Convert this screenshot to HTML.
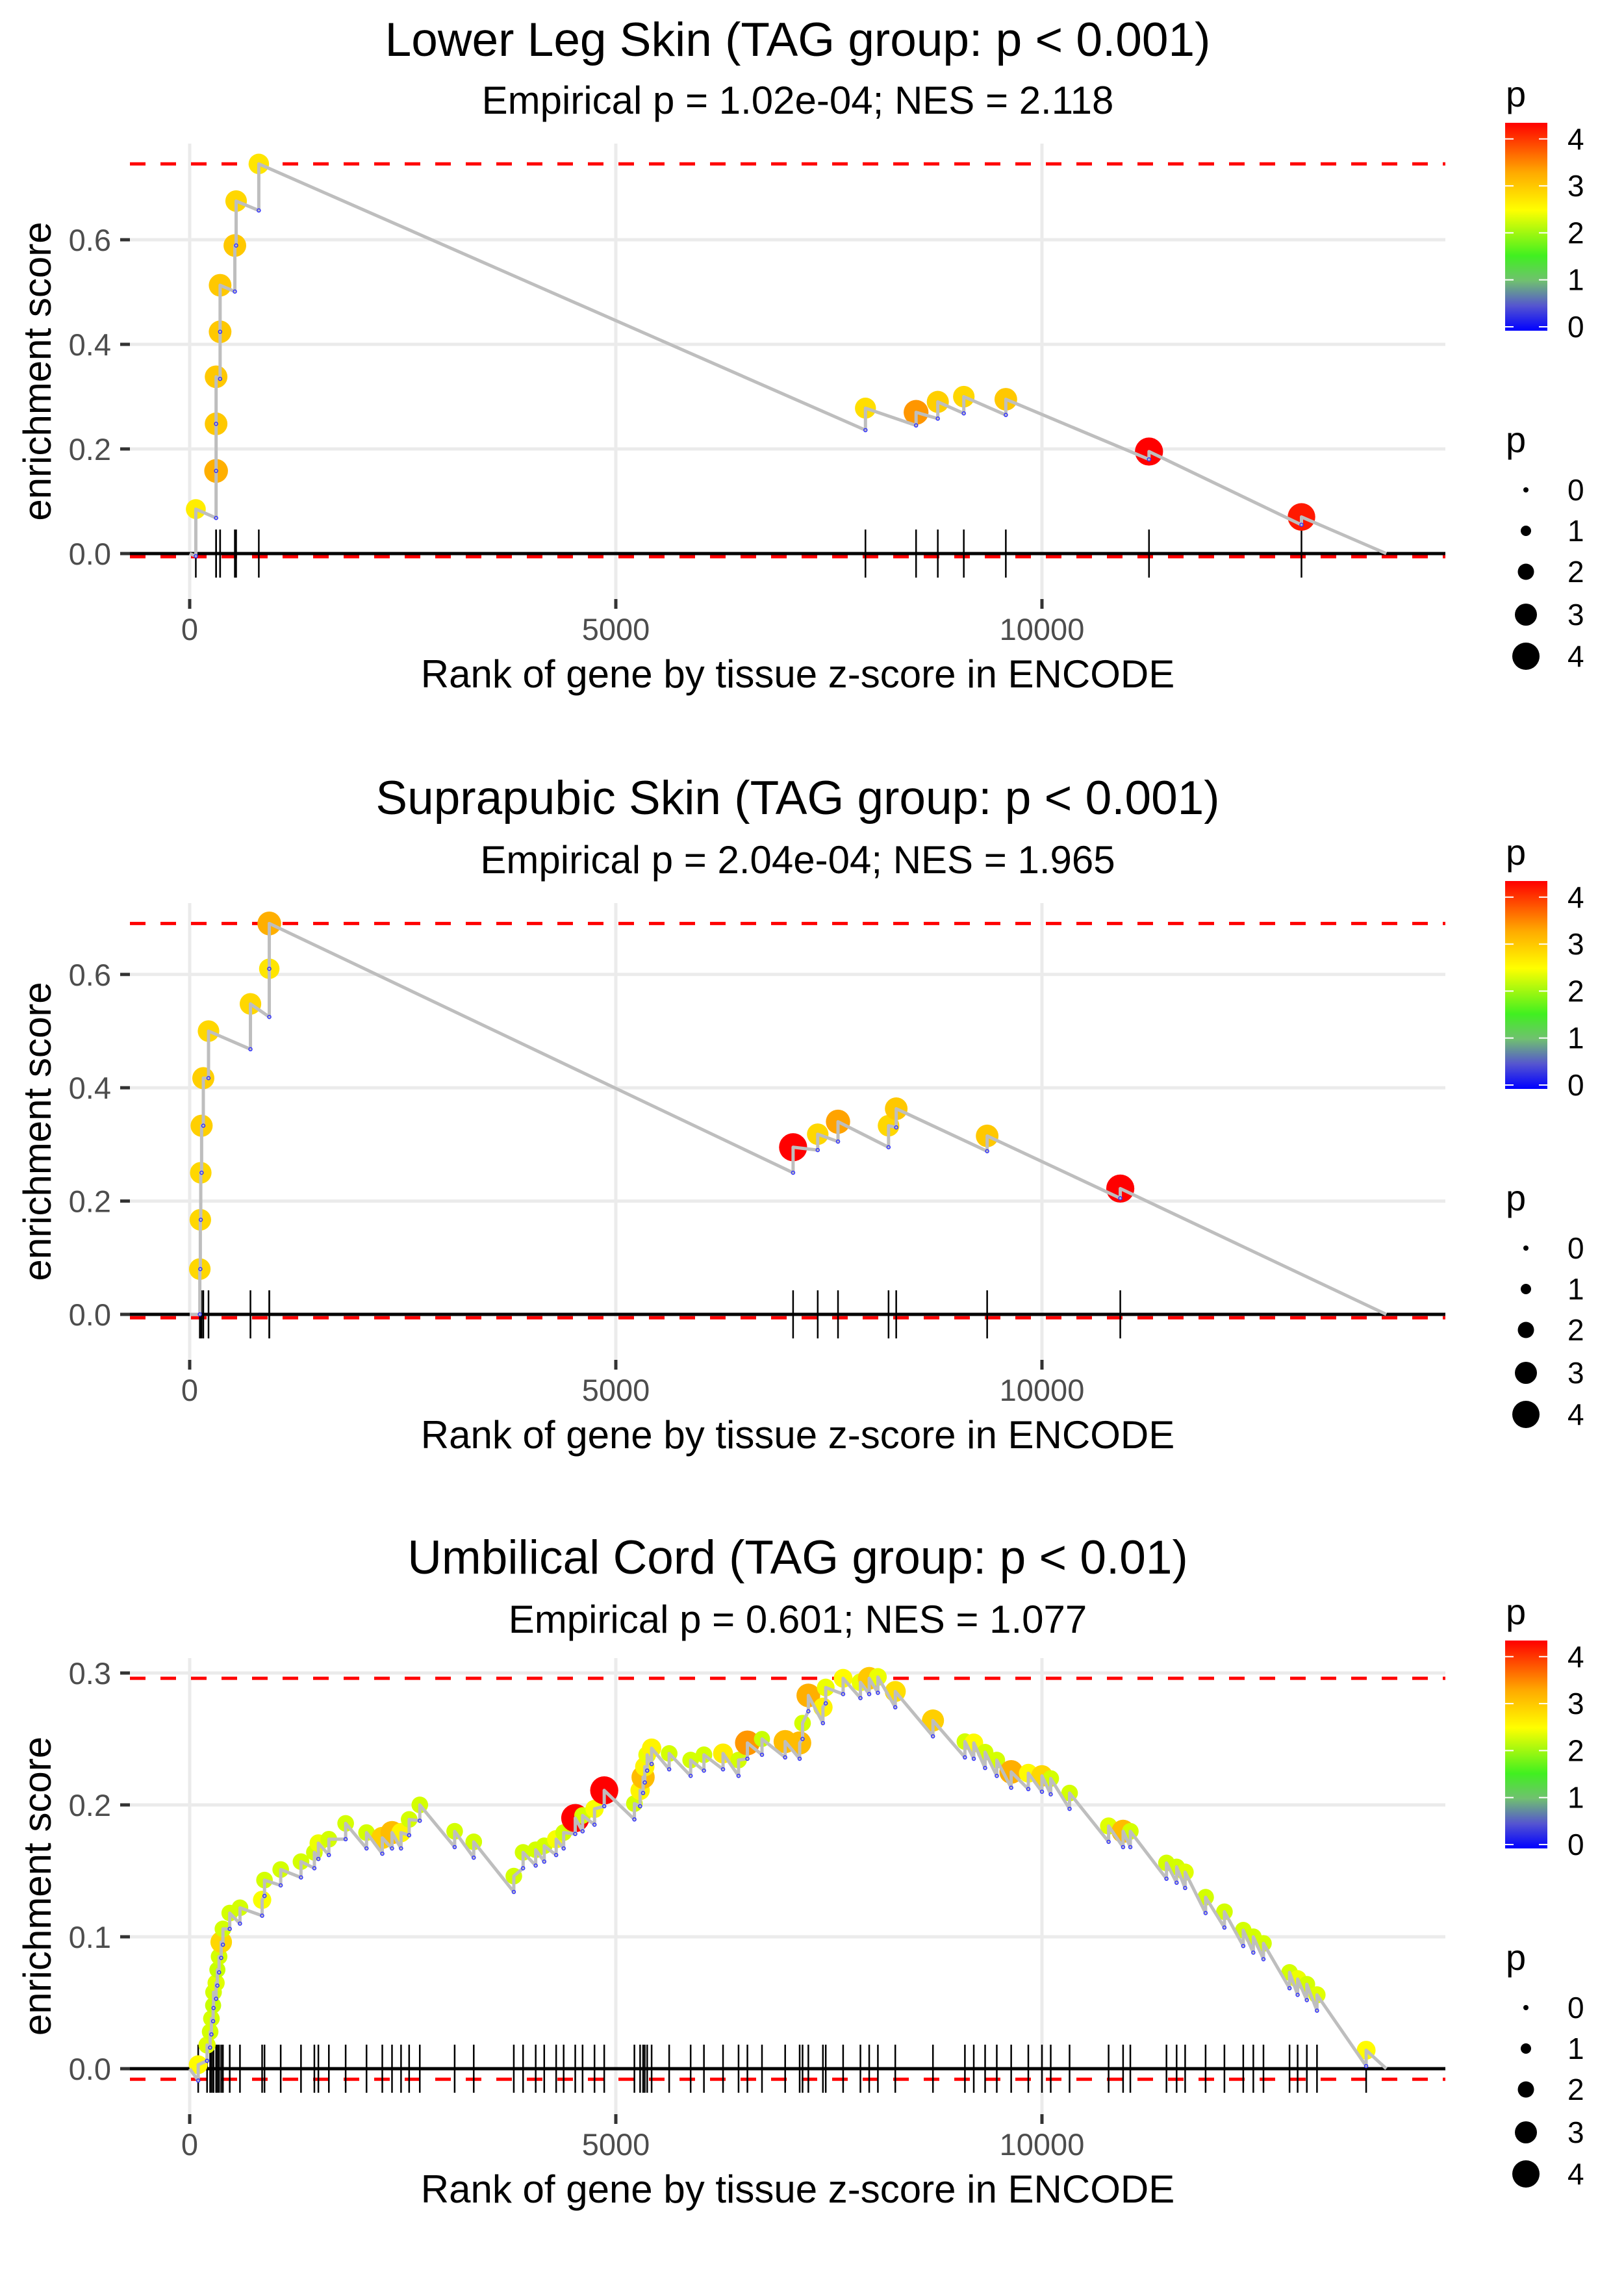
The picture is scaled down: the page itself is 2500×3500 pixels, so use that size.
<!DOCTYPE html>
<html><head><meta charset="utf-8"><style>
html,body{margin:0;padding:0;background:#fff}
svg{display:block;font-family:"Liberation Sans",Arial,sans-serif}
</style></head><body>
<svg id="chart" width="2500" height="3500" viewBox="0 0 2500 3500" xmlns="http://www.w3.org/2000/svg">
<defs>
<linearGradient id="cbar" x1="0" y1="1" x2="0" y2="0">
<stop offset="0" stop-color="#0000ff"/>
<stop offset="0.12" stop-color="#5555d0"/>
<stop offset="0.24" stop-color="#70c070"/>
<stop offset="0.36" stop-color="#40f020"/>
<stop offset="0.58" stop-color="#ffff00"/>
<stop offset="0.76" stop-color="#ffaa00"/>
<stop offset="1" stop-color="#ff0000"/>
</linearGradient>
</defs>
</svg>
<script>
// ---- Panel 1: Lower Leg Skin ----
const p1Ranks = [72, 310, 310, 310, 357, 357, 530, 545, 811, 7929, 8523, 8778, 9083, 9576, 11256, 13045];
const p1ES    = [0.085, 0.158, 0.248, 0.338, 0.424, 0.513, 0.589, 0.674, 0.745, 0.278, 0.27, 0.29, 0.30, 0.295, 0.195, 0.07];
const p1Low   = [-0.005, 0.068, 0.158, 0.248, 0.334, 0.424, 0.501, 0.589, 0.656, 0.236, 0.245, 0.258, 0.268, 0.265, 0.18, 0.055];
const p1P     = [2.7, 3.4, 3.2, 3.2, 3.2, 3.2, 3.2, 3.0, 2.8, 2.9, 3.6, 3.1, 3.0, 3.2, 4.2, 4.1];
const p1Ticks = ['0.0','0.2','0.4','0.6'];
// ---- Panel 2: Suprapubic Skin ----
const p2Ranks = [119, 125, 130, 140, 160, 221, 713, 934, 934, 7080, 7369, 7607, 8200, 8290, 9357, 10919];
const p2ES    = [0.08, 0.167, 0.25, 0.333, 0.417, 0.50, 0.548, 0.61, 0.69, 0.295, 0.318, 0.34, 0.333, 0.363, 0.315, 0.222];
const p2Low   = [0.0, 0.08, 0.167, 0.25, 0.333, 0.417, 0.468, 0.525, 0.61, 0.25, 0.29, 0.305, 0.295, 0.33, 0.288, 0.205];
const p2P     = [3.0, 3.0, 3.0, 3.1, 3.1, 3.0, 3.0, 2.8, 3.4, 4.2, 3.0, 3.5, 3.0, 3.2, 3.2, 4.2];
const p2Ticks = ['0.0','0.2','0.4','0.6'];
// ---- Panel 3: Umbilical Cord ----
const p3Ranks = [100,204,240,255,275,280,310,325,345,370,390,470,590,850,878,1068,1306,1463,1510,1633,1830,2075,2260,2374,2480,2575,2700,3109,3333,3803,3912,4060,4160,4300,4388,4524,4610,4750,4864,5218,5285,5320,5340,5368,5420,5626,5878,6034,6258,6440,6544,6715,6987,7157,7191,7259,7430,7463,7667,7870,7973,8075,8279,8721,9096,9200,9333,9470,9639,9840,10000,10103,10324,10782,10952,11037,11461,11580,11680,11920,12141,12362,12480,12599,12905,13000,13108,13227,13804];
const p3ES    = [0.003,0.018,0.028,0.038,0.048,0.058,0.065,0.075,0.085,0.096,0.106,0.118,0.122,0.128,0.143,0.151,0.157,0.164,0.171,0.174,0.186,0.179,0.175,0.179,0.179,0.189,0.200,0.180,0.172,0.146,0.164,0.166,0.169,0.174,0.179,0.19,0.192,0.197,0.211,0.201,0.211,0.221,0.229,0.238,0.243,0.239,0.234,0.238,0.239,0.234,0.247,0.250,0.248,0.247,0.262,0.283,0.274,0.289,0.296,0.293,0.296,0.297,0.286,0.264,0.248,0.247,0.240,0.234,0.225,0.224,0.222,0.22,0.209,0.184,0.18,0.18,0.156,0.153,0.149,0.13,0.119,0.105,0.1,0.095,0.073,0.068,0.064,0.056,0.014];
const p3P     = [2.5,2.2,2.1,2.1,2.0,2.1,2.2,2.0,2.1,3.0,2.1,2.1,2.1,2.4,2.1,2.1,2.1,2.1,2.3,2.1,2.1,2.1,3.1,3.3,2.6,2.1,2.1,2.1,2.1,2.1,2.1,2.1,2.1,2.4,2.1,4.2,2.1,2.4,4.2,2.1,2.6,3.3,2.6,2.3,2.6,2.1,2.1,2.1,2.7,2.1,3.6,2.0,3.3,3.3,2.1,3.4,2.6,2.3,2.5,2.3,3.2,2.3,2.9,3.1,2.1,2.5,2.1,2.1,3.4,2.5,3.0,2.1,2.1,2.2,3.3,2.1,2.1,2.1,2.2,2.1,2.1,2.1,2.1,2.1,2.1,2.3,2.1,2.2,2.5];
const p3Ticks = ['0.0','0.1','0.2','0.3'];
const xTickVals = [0, 5000, 10000];

const NS='http://www.w3.org/2000/svg';
const svg=document.getElementById('chart');
function mk(tag, attrs, parent){const e=document.createElementNS(NS,tag);for(const k in attrs)e.setAttribute(k,attrs[k]);(parent||svg).appendChild(e);return e;}
function xScale(r){return 292 + r*0.1312;}
function colorFor(p){
  const stops=[[0,[0,0,255]],[0.5,[85,85,208]],[1,[112,192,112]],[1.5,[64,240,32]],[2.0,[200,255,0]],[2.45,[255,255,0]],[3.2,[255,200,0]],[3.6,[255,150,0]],[4.2,[255,0,0]]];
  if(p<=0)return 'rgb(0,0,255)';
  for(let i=1;i<stops.length;i++){if(p<=stops[i][0]){const a=stops[i-1],b=stops[i];const t=(p-a[0])/(b[0]-a[0]);const c=a[1].map((v,j)=>Math.round(v+(b[1][j]-v)*t));return 'rgb('+c.join(',')+')';}}
  return 'rgb(255,0,0)';
}
function radius(p){return 4+4.2*p;}

const panels=[
 {ranks:p1Ranks,es:p1ES,low:p1Low,p:p1P,ticks:p1Ticks,tickStep:0.2,y0:852,perUnit:805,top:221,maxDash:0.745,minDash:-0.006,endRank:14040,
  title:'Lower Leg Skin (TAG group: p < 0.001)',sub:'Empirical p = 1.02e-04; NES = 2.118',titleY:60,subY:154,legOff:0,name:'lower-leg-skin'},
 {ranks:p2Ranks,es:p2ES,low:p2Low,p:p2P,ticks:p2Ticks,tickStep:0.2,y0:2023,perUnit:872,top:1390,maxDash:0.69,minDash:-0.006,endRank:14040,
  title:'Suprapubic Skin (TAG group: p < 0.001)',sub:'Empirical p = 2.04e-04; NES = 1.965',titleY:1227,subY:1323,legOff:1167,name:'suprapubic-skin'},
 {ranks:p3Ranks,es:p3ES,low:null,p:p3P,ticks:p3Ticks,tickStep:0.1,y0:3184,perUnit:2030,top:2552,maxDash:0.296,minDash:-0.008,endRank:14040,
  title:'Umbilical Cord (TAG group: p < 0.01)',sub:'Empirical p = 0.601; NES = 1.077',titleY:2396,subY:2492,legOff:2336,name:'umbilical-cord'}
];

panels.forEach((P,pi)=>{
  const g=mk('g',{});
  
  
  const y=v=>P.y0 - v*P.perUnit;
  const L=200,R=2225;
  const bottom=P.y0+70;
  P.ticks.forEach((t,i)=>{
    const gl=mk('line',{x1:L,x2:R,y1:y(i*P.tickStep),y2:y(i*P.tickStep),stroke:'#ebebeb','stroke-width':5},g);
    
    
  });
  xTickVals.forEach(v=>{
    const gl=mk('line',{x1:xScale(v),x2:xScale(v),y1:P.top,y2:bottom,stroke:'#ebebeb','stroke-width':5},g);
    
    
  });
  [P.maxDash,P.minDash].forEach(v=>{
    const d=mk('line',{x1:L,x2:R,y1:y(v),y2:y(v),stroke:'#ff0000','stroke-width':5,'stroke-dasharray':'24 23'},g);
    
    
  });
  const z=mk('line',{x1:L,x2:R,y1:y(0),y2:y(0),stroke:'#000','stroke-width':5},g);
  
  
  P.ranks.forEach(r=>{
    const t=mk('line',{x1:xScale(r),x2:xScale(r),y1:y(0)-37,y2:y(0)+37,stroke:'#000','stroke-width':2.5},g);
    
    
  });
  const lows=P.low?P.low:P.es.map(v=>v-0.012);
  let d='M'+xScale(0)+' '+y(0);
  P.ranks.forEach((r,i)=>{d+=' L'+xScale(r)+' '+y(lows[i])+' L'+xScale(r)+' '+y(P.es[i]);});
  d+=' L'+xScale(P.endRank)+' '+y(0);
  P.ranks.forEach((r,i)=>{
    const c=mk('circle',{cx:xScale(r),cy:y(P.es[i]),r:radius(P.p[i]),fill:colorFor(P.p[i])},g);
    
    
  });
  const line=mk('path',{d:d,fill:'none',stroke:'#bebebe','stroke-width':5,'stroke-linejoin':'round'},g);
  
  
  P.ranks.forEach((r,i)=>{
    const c=mk('circle',{cx:xScale(r),cy:y(lows[i]),r:2.5,fill:'none',stroke:'#3333ff','stroke-width':1.5},g);
    
    
  });
  P.ticks.forEach((t,i)=>{
    const yy=y(i*P.tickStep);
    const tk=mk('line',{x1:185,x2:200,y1:yy,y2:yy,stroke:'#333','stroke-width':5},g);
    
    
    const tx=mk('text',{x:171,y:yy+17,'text-anchor':'end','font-size':47,fill:'#4d4d4d'},g);
    tx.textContent=t;
    
    
  });
  xTickVals.forEach(v=>{
    const tk=mk('line',{x1:xScale(v),x2:xScale(v),y1:bottom,y2:bottom+15,stroke:'#333','stroke-width':5},g);
    
    
    const tx=mk('text',{x:xScale(v),y:P.y0+133,'text-anchor':'middle','font-size':47,fill:'#4d4d4d'},g);
    tx.textContent=String(v);
    
    
  });
  const ti=mk('text',{x:1228,y:P.titleY+26,'text-anchor':'middle','font-size':73,fill:'#000'},g);
  ti.textContent=P.title;
  
  
  const su=mk('text',{x:1228,y:P.subY+21,'text-anchor':'middle','font-size':60,fill:'#000'},g);
  su.textContent=P.sub;
  
  
  const xa=mk('text',{x:1228,y:P.y0+206,'text-anchor':'middle','font-size':60,fill:'#000'},g);
  xa.textContent='Rank of gene by tissue z-score in ENCODE';
  
  
  const ycx=78, ycy=(P.top+bottom)/2;
  const ya=mk('text',{x:ycx,y:ycy,'text-anchor':'middle','font-size':60,fill:'#000',transform:'rotate(-90 '+ycx+' '+ycy+')'},g);
  ya.textContent='enrichment score';
  
  
  const o=P.legOff;
  const lt=mk('text',{x:2318,y:164+o,'font-size':56,fill:'#000'},g);
  lt.textContent='p';
  
  
  const cb=mk('rect',{x:2317,y:189+o,width:65,height:320,fill:'url(#cbar)'},g);
  
  
  for(let v=0;v<=4;v++){
    const yy=503-v*72.3+o;
    mk('line',{x1:2317,x2:2330,y1:yy,y2:yy,stroke:'#fff','stroke-width':2},g);
    mk('line',{x1:2369,x2:2382,y1:yy,y2:yy,stroke:'#fff','stroke-width':2},g);
    const tx=mk('text',{x:2413,y:yy+16,'font-size':46,fill:'#000'},g);
    tx.textContent=String(v);
    
    
  }
  const st=mk('text',{x:2318,y:696+o,'font-size':56,fill:'#000'},g);
  st.textContent='p';
  
  
  const sy=[754,817,880,946,1010], sr=[4,8,12.5,17,21];
  for(let v=0;v<=4;v++){
    const c=mk('circle',{cx:2349,cy:sy[v]+o,r:sr[v],fill:'#000'},g);
    
    
    const tx=mk('text',{x:2413,y:sy[v]+o+16,'font-size':46,fill:'#000'},g);
    tx.textContent=String(v);
    
    
  }
});
</script>
</body></html>
